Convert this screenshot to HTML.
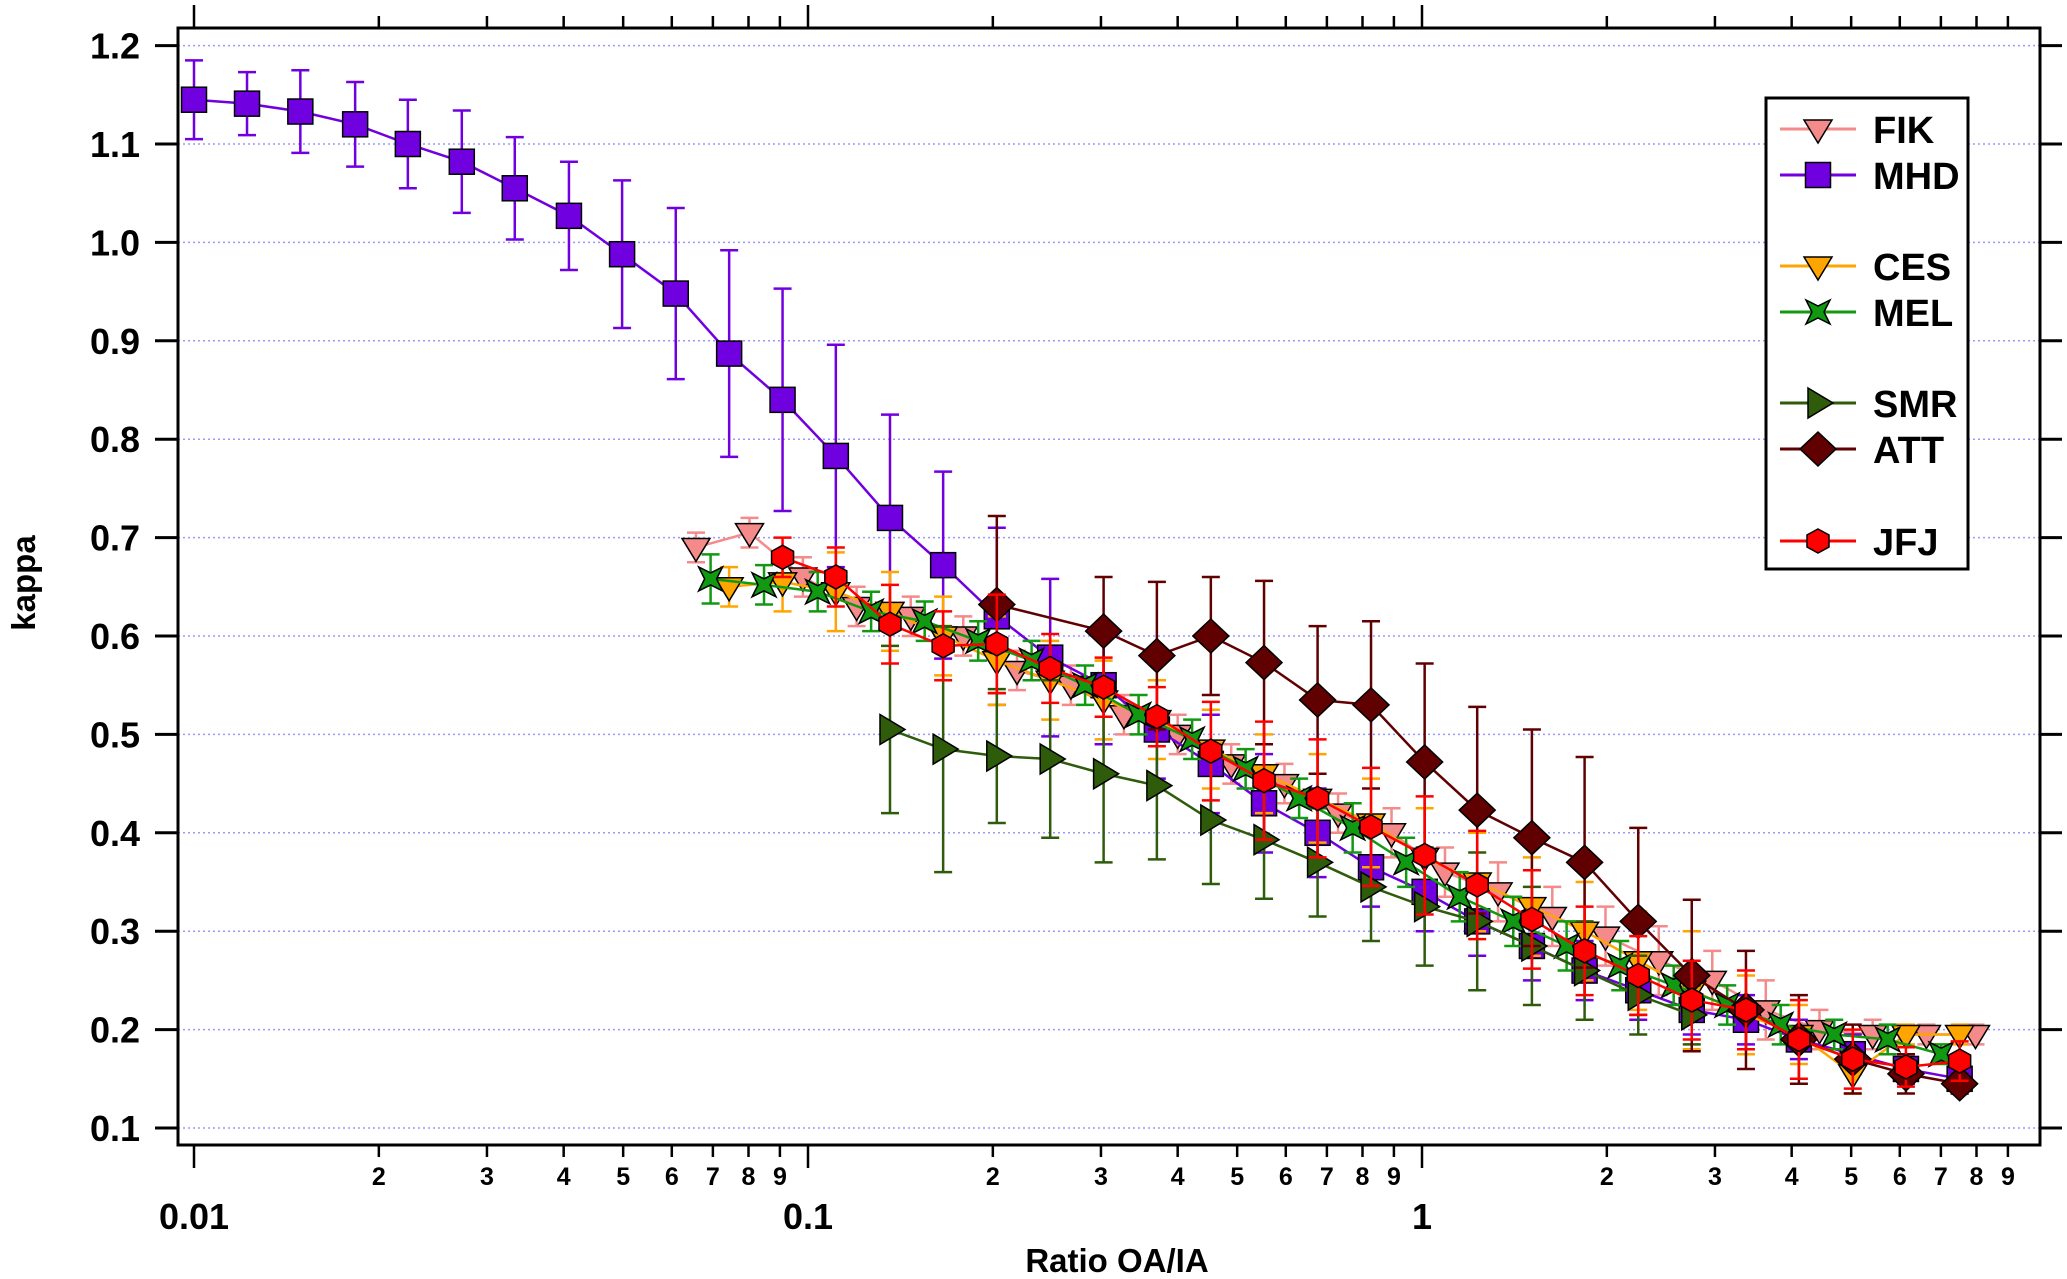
<!DOCTYPE html>
<html><head><meta charset="utf-8">
<style>
html,body{margin:0;padding:0;background:#fff;}
svg{display:block;font-family:"Liberation Sans",Arial,sans-serif;font-weight:bold;}
</style></head>
<body>
<svg id="chart" width="2067" height="1279" viewBox="0 0 2067 1279" xmlns="http://www.w3.org/2000/svg">
<g id="grid"></g>
<g id="axes"></g>
<g id="series"></g>
<g id="legend"></g>
</svg>
<script>
const yTicks = [0.1,0.2,0.3,0.4,0.5,0.6,0.7,0.8,0.9,1.0,1.1,1.2];
const yTickLabels = ["0.1","0.2","0.3","0.4","0.5","0.6","0.7","0.8","0.9","1.0","1.1","1.2"];
const xDecades = [0.01,0.1,1];
const xDecadeLabels = ["0.01","0.1","1"];

const fikX = [0.0657,0.0803,0.0981,0.120,0.147,0.179,0.219,0.268,0.327,0.400,0.489,0.597,0.730,0.892,1.09,1.33,1.63,1.99,2.43,2.97,3.63,4.44,5.42,6.63,7.97];
const fikY = [0.69,0.705,0.66,0.63,0.62,0.60,0.565,0.55,0.52,0.50,0.47,0.45,0.42,0.40,0.36,0.34,0.315,0.295,0.27,0.25,0.22,0.20,0.195,0.195,0.195];
const fikE = [0.015,0.015,0.02,0.02,0.02,0.02,0.02,0.02,0.02,0.02,0.02,0.02,0.02,0.025,0.025,0.03,0.03,0.03,0.035,0.03,0.03,0.02,0.015,0.01,0.01];

const mhdX = [0.01,0.0122,0.0149,0.0183,0.0223,0.0273,0.0333,0.0408,0.0498,0.0609,0.0744,0.0909,0.111,0.136,0.166,0.203,0.248,0.303,0.370,0.453,0.553,0.676,0.826,1.01,1.23,1.51,1.84,2.25,2.75,3.37,4.11,5.03,6.14,7.51];
const mhdY = [1.145,1.141,1.133,1.12,1.1,1.082,1.055,1.027,0.988,0.948,0.887,0.84,0.783,0.72,0.672,0.62,0.578,0.55,0.505,0.47,0.43,0.4,0.365,0.34,0.31,0.285,0.26,0.24,0.22,0.21,0.19,0.175,0.16,0.15];
const mhdE = [0.04,0.032,0.042,0.043,0.045,0.052,0.052,0.055,0.075,0.087,0.105,0.113,0.113,0.105,0.095,0.09,0.08,0.06,0.05,0.05,0.05,0.045,0.04,0.04,0.035,0.035,0.03,0.03,0.025,0.025,0.02,0.02,0.015,0.015];

const cesX = [0.0744,0.0909,0.111,0.136,0.166,0.203,0.248,0.303,0.370,0.453,0.553,0.676,0.826,1.01,1.23,1.51,1.84,2.25,2.75,3.37,4.11,5.03,6.14,7.51];
const cesY = [0.65,0.655,0.645,0.625,0.60,0.575,0.555,0.535,0.515,0.485,0.46,0.435,0.41,0.375,0.35,0.325,0.30,0.27,0.24,0.215,0.195,0.155,0.195,0.195];
const cesE = [0.02,0.03,0.04,0.04,0.04,0.045,0.04,0.04,0.04,0.04,0.04,0.045,0.045,0.05,0.05,0.05,0.05,0.05,0.06,0.04,0.03,0.02,0.01,0.01];

const melX = [0.0694,0.0848,0.1037,0.1267,0.1549,0.1893,0.2313,0.2827,0.3455,0.4223,0.5161,0.6308,0.771,0.9423,1.152,1.408,1.72,2.103,2.57,3.141,3.839,4.692,5.734,7.008];
const melY = [0.658,0.652,0.645,0.625,0.615,0.595,0.575,0.55,0.52,0.495,0.465,0.435,0.405,0.37,0.335,0.31,0.285,0.265,0.245,0.225,0.205,0.195,0.19,0.175];
const melE = [0.025,0.02,0.02,0.02,0.02,0.02,0.02,0.02,0.02,0.02,0.02,0.02,0.025,0.025,0.025,0.025,0.025,0.025,0.02,0.02,0.02,0.015,0.015,0.01];

const smrX = [0.136,0.166,0.203,0.248,0.303,0.370,0.453,0.553,0.676,0.826,1.01,1.23,1.51,1.84,2.25,2.75];
const smrY = [0.505,0.485,0.478,0.475,0.46,0.448,0.413,0.393,0.37,0.345,0.325,0.31,0.285,0.26,0.235,0.215];
const smrE = [0.085,0.125,0.068,0.08,0.09,0.075,0.065,0.06,0.055,0.055,0.06,0.07,0.06,0.05,0.04,0.03];

const attX = [0.203,0.303,0.370,0.453,0.553,0.676,0.826,1.01,1.23,1.51,1.84,2.25,2.75,3.37,4.11,5.03,6.14,7.51];
const attY = [0.632,0.605,0.58,0.60,0.573,0.535,0.53,0.472,0.423,0.395,0.37,0.31,0.255,0.22,0.19,0.17,0.155,0.145];
const attE = [0.09,0.055,0.075,0.06,0.083,0.075,0.085,0.1,0.105,0.11,0.107,0.095,0.077,0.06,0.045,0.035,0.02,0.01];

const jfjX = [0.0909,0.111,0.136,0.166,0.203,0.248,0.303,0.370,0.453,0.553,0.676,0.826,1.01,1.23,1.51,1.84,2.25,2.75,3.37,4.11,5.03,6.14,7.51];
const jfjY = [0.68,0.66,0.612,0.59,0.592,0.567,0.548,0.518,0.483,0.453,0.435,0.406,0.377,0.347,0.312,0.28,0.255,0.23,0.22,0.19,0.17,0.162,0.168];
const jfjE = [0.02,0.03,0.04,0.035,0.05,0.035,0.03,0.03,0.05,0.06,0.06,0.06,0.06,0.055,0.05,0.045,0.04,0.04,0.04,0.04,0.03,0.02,0.02];

const NS = "http://www.w3.org/2000/svg";
const L = 178, R = 2040, T = 28, B = 1145;
function X(v){ return 194 + (Math.log10(v) + 2) * 614; }
function Y(v){ return 1128 - (v - 0.1) * 984; }
function mk(tag, attrs, parent){
  const e = document.createElementNS(NS, tag);
  for (const k in attrs) e.setAttribute(k, attrs[k]);
  parent.appendChild(e);
  return e;
}
const grid = document.getElementById('grid');
const axes = document.getElementById('axes');
const ser = document.getElementById('series');
const leg = document.getElementById('legend');

yTicks.forEach((v,i) => {
  const g = mk('line',{x1:L,x2:R,y1:Y(v),y2:Y(v),stroke:'#9999ff','stroke-width':1.5,'stroke-dasharray':'2,3'},grid);
  
  
  const t1 = mk('line',{x1:L-23,x2:L,y1:Y(v),y2:Y(v),stroke:'#000','stroke-width':3},axes);
  
  
  const t2 = mk('line',{x1:R,x2:R+22,y1:Y(v),y2:Y(v),stroke:'#000','stroke-width':3},axes);
  
  
  const lb = mk('text',{x:L-38,y:Y(v)+13,'text-anchor':'end','font-size':36},axes);
  lb.textContent = yTickLabels[i];
  
  
});

const frame = mk('rect',{x:L,y:T,width:R-L,height:B-T,fill:'none',stroke:'#000','stroke-width':3},axes);



xDecades.forEach((d,i) => {
  for (let m = 1; m <= 9; m++){
    const v = d*m, x = X(v);
    if (x > R) continue;
    const major = (m === 1);
    const len = major ? 23 : 12;
    const tb = mk('line',{x1:x,x2:x,y1:B,y2:B+len,stroke:'#000','stroke-width':2.5},axes);
    
    
    const tt = mk('line',{x1:x,x2:x,y1:T,y2:T-len,stroke:'#000','stroke-width':2.5},axes);
    
    
    if (major){
      const lb = mk('text',{x:x,y:1229,'text-anchor':'middle','font-size':36},axes);
      lb.textContent = xDecadeLabels[i];
      
      
    } else {
      const lb = mk('text',{x:x,y:1185,'text-anchor':'middle','font-size':25},axes);
      lb.textContent = String(m);
      
      
    }
  }
});

const xt = mk('text',{x:1117,y:1272,'text-anchor':'middle','font-size':33},axes);
xt.textContent = 'Ratio OA/IA';


const yt = mk('text',{x:0,y:0,'text-anchor':'middle','font-size':33,transform:'translate(35,583) rotate(-90)'},axes);
yt.textContent = 'kappa';



function marker(shape, cx, cy, fill, parent){
  let e;
  const st = {fill:fill, stroke:'#000', 'stroke-width':1.5};
  if (shape === 'down'){
    e = mk('polygon', Object.assign({points:`${cx-14},${cy-9} ${cx+14},${cy-9} ${cx},${cy+14}`}, st), parent);
  } else if (shape === 'square'){
    e = mk('rect', Object.assign({x:cx-12.5,y:cy-12.5,width:25,height:25}, st), parent);
  } else if (shape === 'star'){
    const s = 12, a = 6;
    e = mk('polygon', Object.assign({points:`${cx-s},${cy-s} ${cx},${cy-a} ${cx+s},${cy-s} ${cx+a},${cy} ${cx+s},${cy+s} ${cx},${cy+a} ${cx-s},${cy+s} ${cx-a},${cy}`}, st), parent);
  } else if (shape === 'right'){
    e = mk('polygon', Object.assign({points:`${cx-10},${cy-15} ${cx+15},${cy} ${cx-10},${cy+15}`}, st), parent);
  } else if (shape === 'diamond'){
    e = mk('polygon', Object.assign({points:`${cx},${cy-17} ${cx+18},${cy} ${cx},${cy+17} ${cx-18},${cy}`}, st), parent);
  } else {
    e = mk('polygon', Object.assign({points:`${cx},${cy-12} ${cx+11},${cy-6} ${cx+11},${cy+6} ${cx},${cy+12} ${cx-11},${cy+6} ${cx-11},${cy-6}`}, st), parent);
  }
  return e;
}

const seriesList = [
  {name:'FIK', xs:fikX, ys:fikY, es:fikE, color:'#f58a8a', shape:'down'},
  {name:'MHD', xs:mhdX, ys:mhdY, es:mhdE, color:'#7000e0', shape:'square'},
  {name:'CES', xs:cesX, ys:cesY, es:cesE, color:'#ffa500', shape:'down'},
  {name:'MEL', xs:melX, ys:melY, es:melE, color:'#119911', shape:'star'},
  {name:'SMR', xs:smrX, ys:smrY, es:smrE, color:'#2e5c0a', shape:'right'},
  {name:'ATT', xs:attX, ys:attY, es:attE, color:'#600000', shape:'diamond'},
  {name:'JFJ', xs:jfjX, ys:jfjY, es:jfjE, color:'#ff0000', shape:'hex'}
];

seriesList.forEach(s => {
  const g = mk('g',{},ser);
  
  
  s.xs.forEach((xv,i) => {
    const x = X(xv), y1 = Y(s.ys[i] + s.es[i]), y2 = Y(s.ys[i] - s.es[i]);
    const eb = mk('path',{d:`M${x},${y1}V${y2}M${x-9},${y1}H${x+9}M${x-9},${y2}H${x+9}`,stroke:s.color,'stroke-width':2.5,fill:'none'},g);
    
    
  });
  const pts = s.xs.map((xv,i) => X(xv) + ',' + Y(s.ys[i])).join(' ');
  const ln = mk('polyline',{points:pts,fill:'none',stroke:s.color,'stroke-width':2.5},g);
  
  
  s.xs.forEach((xv,i) => {
    const m = marker(s.shape, X(xv), Y(s.ys[i]), s.color, g);
    
    
  });
});

const lbox = mk('rect',{x:1766,y:98,width:202,height:471,fill:'#fff',stroke:'#000','stroke-width':3},leg);


const legY = [129,175,266,312,403,449,541];
seriesList.forEach((s,i) => {
  const g = mk('g',{},leg);
  
  
  const y = legY[i];
  mk('line',{x1:1780,x2:1856,y1:y,y2:y,stroke:s.color,'stroke-width':3},g);
  marker(s.shape, 1818, y, s.color, g);
  const t = mk('text',{x:1873,y:y+14,'font-size':38},g);
  t.textContent = s.name;
});
</script>
</body></html>
